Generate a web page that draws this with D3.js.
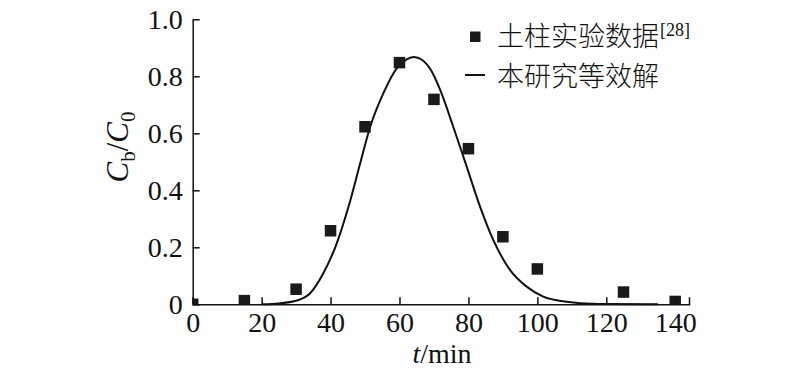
<!DOCTYPE html>
<html>
<head>
<meta charset="utf-8">
<script src="https://cdn.jsdelivr.net/npm/d3@7"></script>
<style>
  body { margin: 0; background: #fff; }
  svg { display: block; }
  .axis text { font-family: "Liberation Serif", "Times New Roman", serif; font-size: 28px; fill: #111; }
  .axis path, .axis line { stroke: #111; stroke-width: 1.5px; }
</style>
</head>
<body>
<svg id="chart" width="800" height="374"></svg>
<script>
// measured points (soil column test)
var expT = [0, 15, 30, 40, 50, 60, 70, 80, 90, 100, 125, 140];
var expC = [0, 0.013, 0.053, 0.258, 0.623, 0.848, 0.719, 0.546, 0.237, 0.124, 0.043, 0.01];

// equivalent solution curve
var fitT = [20, 25, 30.7, 34, 37.9, 41.8, 45.2, 48.6, 51.5, 55.3, 59.2, 62.2, 64.2, 66.5, 69.2, 71.8, 75.6, 79.5, 83.4, 87.2, 92.1, 96.9, 101.7, 108.5, 112.5, 120, 135];
var fitC = [0, 0.003, 0.015, 0.038, 0.109, 0.214, 0.342, 0.495, 0.623, 0.74, 0.828, 0.86, 0.868, 0.858, 0.82, 0.752, 0.623, 0.483, 0.342, 0.226, 0.12, 0.062, 0.027, 0.009, 0.004, 0.001, 0];

var xTicks = [0, 20, 40, 60, 80, 100, 120, 140];
var yTicks = [0, 0.2, 0.4, 0.6, 0.8, 1.0];
var legendLabels = ["土柱实验数据", "本研究等效解"];
var legendRef = "[28]";

var svg = d3.select("#chart");
var x = d3.scaleLinear().domain([0, 144]).range([192.7, 689]);
var y = d3.scaleLinear().domain([0, 1]).range([304.3, 19.3]);

svg.append("clipPath").attr("id", "plotclip")
  .append("rect")
  .attr("x", x(0)).attr("y", y(1) - 10)
  .attr("width", x(144) - x(0) + 10).attr("height", y(0) - y(1) + 10);

// curve
var line = d3.line().x(function(d, i) { return x(fitT[i]); }).y(function(d) { return y(d); })
  .curve(d3.curveMonotoneX);
svg.append("path")
  .datum(fitC)
  .attr("d", line)
  .attr("fill", "none")
  .attr("stroke", "#111")
  .attr("stroke-width", 2);

// squares
var sq = 11.5;
svg.append("g").attr("clip-path", "url(#plotclip)")
  .selectAll("rect")
  .data(expC)
  .enter()
  .append("rect")
  .attr("x", function(d, i) { return x(expT[i]) - sq / 2; })
  .attr("y", function(d) { return y(d) - sq / 2; })
  .attr("width", sq).attr("height", sq)
  .attr("fill", "#1a1a1a");

// axes
svg.append("g").attr("class", "axis")
  .attr("transform", "translate(0," + y(0) + ")")
  .call(d3.axisBottom(x).tickValues(xTicks).tickSize(-7).tickSizeOuter(-7).tickPadding(8)
    .tickFormat(d3.format("d")));

svg.append("g").attr("class", "axis")
  .attr("transform", "translate(" + x(0) + ",0)")
  .call(d3.axisLeft(y).tickValues(yTicks).tickSize(-7).tickSizeOuter(0).tickPadding(10)
    .tickFormat(function(d) { return d === 0 ? "0" : d3.format(".1f")(d); }));

// axis titles
var serif = "'Liberation Serif', 'Times New Roman', serif";
var xt = svg.append("text")
  .attr("x", 442).attr("y", 363)
  .attr("text-anchor", "middle")
  .style("font-family", serif).style("font-size", "28px").attr("fill", "#111");
xt.append("tspan").style("font-style", "italic").text("t");
xt.append("tspan").text("/min");

var yt = svg.append("text")
  .attr("transform", "translate(128,147) rotate(-90)")
  .attr("text-anchor", "middle")
  .style("font-family", serif).style("font-size", "31px").attr("fill", "#111");
yt.append("tspan").style("font-style", "italic").text("C");
yt.append("tspan").attr("dy", 7).style("font-size", "21px").text("b");
yt.append("tspan").attr("dy", -7).text("/");
yt.append("tspan").style("font-style", "italic").text("C");
yt.append("tspan").attr("dy", 7).style("font-size", "21px").text("0");

// legend
var cjk = "'Noto Sans CJK SC', sans-serif";
svg.append("rect")
  .attr("x", 470).attr("y", 31.5).attr("width", 10.5).attr("height", 10.5)
  .attr("fill", "#1a1a1a");
var l1 = svg.append("text")
  .attr("x", 497).attr("y", 46)
  .style("font-family", cjk).style("font-size", "27px").style("font-weight", 300).attr("fill", "#111");
l1.append("tspan").text(legendLabels[0]);
l1.append("tspan").attr("dy", -10).attr("dx", 1).style("font-family", serif).style("font-size", "18px").text(legendRef);

svg.append("line")
  .attr("x1", 465).attr("x2", 485).attr("y1", 75).attr("y2", 75)
  .attr("stroke", "#111").attr("stroke-width", 2);
svg.append("text")
  .attr("x", 497).attr("y", 86)
  .style("font-family", cjk).style("font-size", "27px").style("font-weight", 300).attr("fill", "#111")
  .text(legendLabels[1]);
</script>
</body>
</html>
